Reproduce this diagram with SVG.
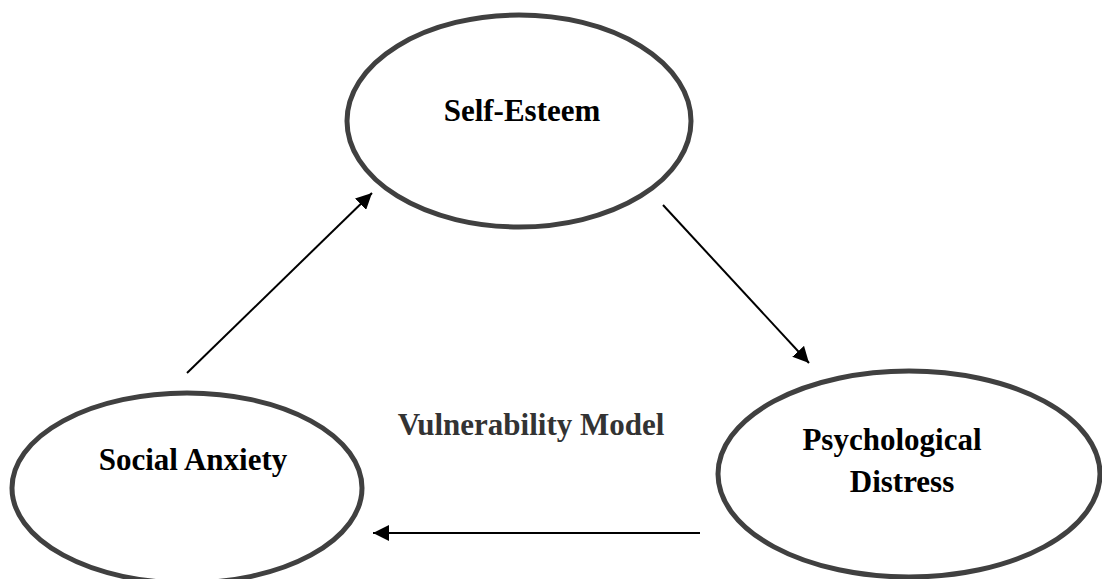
<svg xmlns="http://www.w3.org/2000/svg" width="1102" height="579" viewBox="0 0 1102 579">
<defs>
<style>
.node{fill:#fff;stroke:#404040;stroke-width:5}
.lbl{font-family:"Liberation Serif","Times New Roman",serif;font-weight:bold;font-size:31px;fill:#000;text-anchor:middle}
.conn{stroke:#000;stroke-width:2;fill:none;marker-end:url(#ah)}
</style>
<marker id="ah" viewBox="0 0 10 10" refX="10" refY="5" markerWidth="8" markerHeight="8" orient="auto" markerUnits="strokeWidth">
<path d="M0,0 L10,5 L0,10 z" fill="#000"/>
</marker>
</defs>
<rect width="1102" height="579" fill="#fff"/>
<g id="self-esteem">
<ellipse class="node" cx="519" cy="121" rx="172" ry="106"/>
<text class="lbl" x="522" y="121">Self-Esteem</text>
</g>
<g id="social-anxiety">
<ellipse class="node" cx="187" cy="488" rx="175" ry="95"/>
<text class="lbl" x="193" y="470">Social Anxiety</text>
</g>
<g id="psychological-distress">
<ellipse class="node" cx="909" cy="474" rx="191" ry="103"/>
<text class="lbl" x="892" y="450">Psychological</text>
<text class="lbl" x="902" y="492">Distress</text>
</g>
<g id="model-label">
<text class="lbl" x="531" y="435" style="fill:#333">Vulnerability Model</text>
</g>
<g id="connectors">
<line class="conn" x1="187" y1="373" x2="372" y2="193"/>
<line class="conn" x1="663" y1="205" x2="809" y2="363"/>
<line class="conn" x1="700" y1="533" x2="373" y2="533"/>
</g>
</svg>
